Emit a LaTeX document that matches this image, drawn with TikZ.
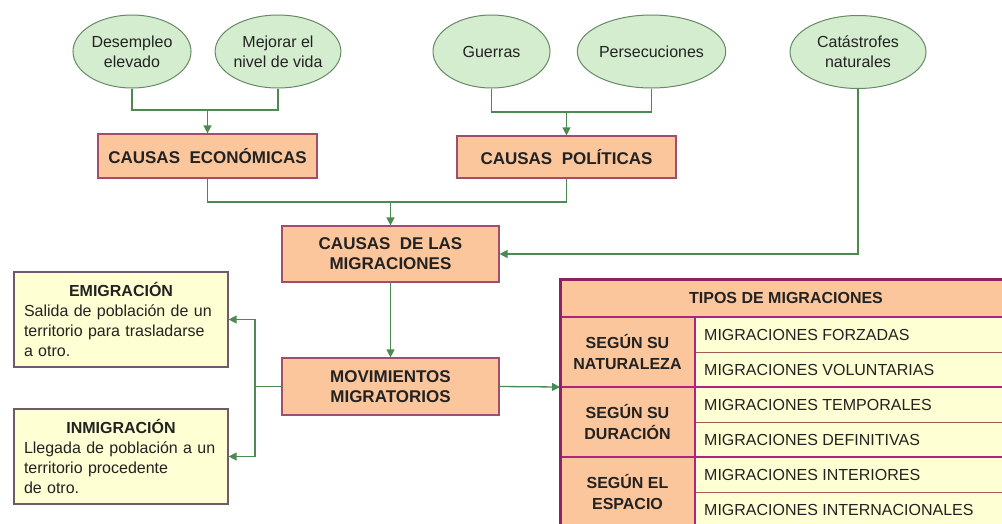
\documentclass[tikz,border=0pt]{standalone}
\usepackage{fontspec}
\setmainfont{Liberation Sans}
\usetikzlibrary{shapes.geometric,arrows.meta}
\definecolor{ellfill}{HTML}{D5EDCF}
\definecolor{elldraw}{HTML}{668A66}
\definecolor{conn}{HTML}{4B8B52}
\definecolor{salmon}{HTML}{FCC69C}
\definecolor{boxdraw}{HTML}{A24D6C}
\definecolor{cream}{HTML}{FFFFD4}
\definecolor{creamdraw}{HTML}{6E5A6A}
\definecolor{tabout}{HTML}{8C2163}
\definecolor{tabin}{HTML}{B0237E}
\definecolor{tabthin}{HTML}{A05A5A}
\definecolor{txt}{HTML}{222222}
\begin{document}
\begin{tikzpicture}[x=1pt,y=-1pt,
  ell/.style={ellipse,draw=elldraw,fill=ellfill,line width=1pt,inner sep=0pt,align=center,
    font=\fontsize{16}{20}\selectfont,text=txt},
  cbox/.style={rectangle,draw=boxdraw,fill=salmon,line width=1.2pt,inner sep=0pt,align=center,
    font=\fontsize{17}{20}\selectfont\bfseries,text=txt},
  tbox/.style={rectangle,draw=creamdraw,fill=cream,line width=1.2pt,inner xsep=10pt,inner ysep=0pt,
    text width=194pt,minimum width=214pt,minimum height=95pt,align=left,
    font=\fontsize{16}{20}\selectfont,text=txt},
  line/.style={draw=conn,line width=1.3pt},
  arr/.style={line,-{Triangle[length=8pt,width=8pt]}},
  thead/.style={inner sep=0pt,font=\fontsize{16}{20}\selectfont\bfseries,text=txt},
  tgroup/.style={inner sep=0pt,align=center,font=\fontsize{16}{21}\selectfont\bfseries,text=txt},
  tcell/.style={inner sep=0pt,anchor=west,font=\fontsize{16}{20}\selectfont,text=txt}
]
\useasboundingbox (0,0) rectangle (1002,523);
\fill[white] (0,0) rectangle (1002,523);

% ellipses
\node[ell,minimum width=118pt,minimum height=73pt] (desem) at (132,51.5) {Desempleo\\elevado};
\node[ell,minimum width=118pt,minimum height=73pt] (mejor) at (278,51.5) {Mejorar el\\nivel de vida};
\node[ell,minimum width=117pt,minimum height=73pt] (guerr) at (491.5,51.5) {Guerras};
\node[ell,minimum width=137pt,minimum height=73pt] (perse) at (651.5,51.5) {Persecuciones};
\node[ell,minimum width=136pt,minimum height=73pt] (catas) at (858,52) {Catástrofes\\naturales};

% boxes
\node[cbox,minimum width=219pt,minimum height=44pt] (econ) at (207.5,156) {CAUSAS\ \ ECONÓMICAS};
\node[cbox,minimum width=219pt,minimum height=42pt] (pol) at (566.5,157) {CAUSAS\ \ POLÍTICAS};
\node[cbox,minimum width=217pt,minimum height=56pt] (causas) at (390.5,254) {CAUSAS\ \ DE LAS\\MIGRACIONES};
\node[cbox,minimum width=217pt,minimum height=57pt] (mov) at (390.5,386.5) {MOVIMIENTOS\\MIGRATORIOS};

% text boxes
\node[tbox] (emig) at (121,319.5) {{\centering\bfseries EMIGRACIÓN\par}\raggedright Salida de población de un\\territorio para trasladarse\\a otro.};
\node[tbox] (inmig) at (121,456.5) {{\centering\bfseries INMIGRACIÓN\par}\raggedright Llegada de población a un\\territorio procedente\\de otro.};

% connectors: economic causes
\coordinate (ej) at (207.5,110);
\draw[line] (desem.south) |- (ej) -| (mejor.south);
\draw[arr] (ej) -- (econ.north);
% political causes
\coordinate (pj) at (566.5,112);
\draw[line] (guerr.south) |- (pj) -| (perse.south);
\draw[arr] (pj) -- (pol.north);
% to causas
\coordinate (cj) at (390.5,202);
\draw[line] (econ.south) |- (cj) -| (pol.south);
\draw[arr] (cj) -- (causas.north);
\draw[arr] (catas.south) |- (causas.east);
\draw[arr] (causas.south) -- (mov.north);
% to emig / inmig
\coordinate (mj) at (255,386.5);
\draw[line] (mov.west) -- (mj);
\draw[arr] (mj) |- (emig.east);
\draw[arr] (mj) |- (inmig.east);

% table fills
\fill[salmon] (560,279) rectangle (1012,317);
\fill[salmon] (560,317) rectangle (695,527);
\fill[cream] (695,317) rectangle (1012,527);

% table text
\node[thead] (th) at (786,298) {TIPOS DE MIGRACIONES};
\node[tgroup] (g1) at (627.5,352) {SEGÚN SU\\NATURALEZA};
\node[tgroup] (g2) at (627.5,422) {SEGÚN SU\\DURACIÓN};
\node[tgroup] (g3) at (627.5,492) {SEGÚN EL\\ESPACIO};
\node[tcell] (c1) at (704,334.5) {MIGRACIONES FORZADAS};
\node[tcell] (c2) at (704,369.5) {MIGRACIONES VOLUNTARIAS};
\node[tcell] (c3) at (704,404.5) {MIGRACIONES TEMPORALES};
\node[tcell] (c4) at (704,439.5) {MIGRACIONES DEFINITIVAS};
\node[tcell] (c5) at (704,474.5) {MIGRACIONES INTERIORES};
\node[tcell] (c6) at (704,509.5) {MIGRACIONES INTERNACIONALES};

% table lines
\draw[tabthin,line width=1pt] (695,352) -- (1012,352) (695,422) -- (1012,422) (695,492) -- (1012,492);
\draw[tabin,line width=2.5pt] (560,317) -- (1012,317) (560,387) -- (1012,387) (560,457) -- (1012,457);
\draw[tabin,line width=2pt] (695,317) -- (695,527);
\draw[tabout,line width=3pt] (560,279) rectangle (1012,527);

\coordinate (tin) at (560,387);
\draw[arr] (mov.east) -- (tin);
\end{tikzpicture}
\end{document}
